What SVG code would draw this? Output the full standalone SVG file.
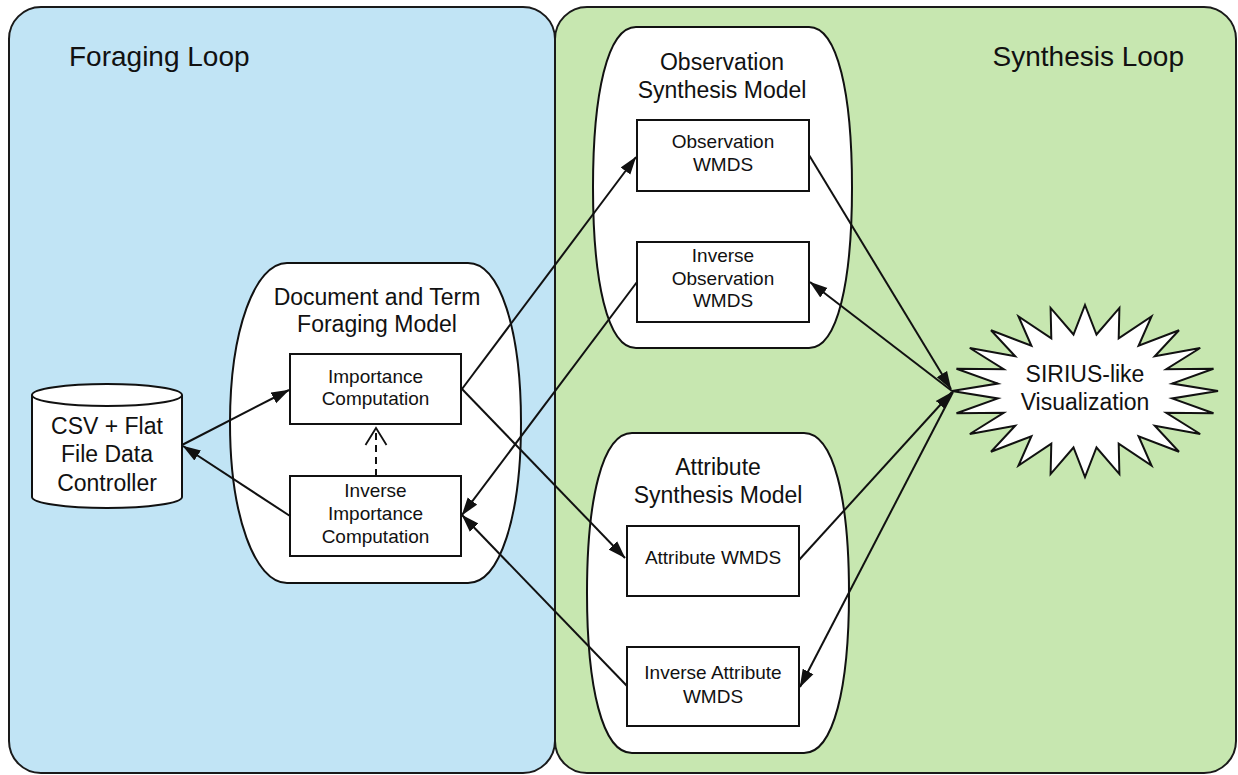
<svg xmlns="http://www.w3.org/2000/svg" width="1238" height="775" viewBox="0 0 1238 775">
<defs>
<style>
.panel{stroke:#1a1a1a;stroke-width:2}
.shape{fill:#fff;stroke:#111;stroke-width:2}
.box{fill:#fff;stroke:#111;stroke-width:2}
.t{font-family:"Liberation Sans",Arial,sans-serif;fill:#111;text-anchor:middle}
.loop{font-size:28px}
.title{font-size:23px}
.bt{font-size:19px}
.conn line{stroke:#111;stroke-width:2;fill:none}
</style>
<marker id="arr" markerUnits="userSpaceOnUse" viewBox="0 0 18 13" markerWidth="18" markerHeight="13" refX="17.5" refY="6.5" orient="auto">
<path d="M0,0.5 L18,6.5 L0,12.5 Z" fill="#111"/>
</marker>
<marker id="open" markerUnits="userSpaceOnUse" viewBox="-2 -2 21 25" markerWidth="21" markerHeight="25" refX="17" refY="10.5" orient="auto">
<path d="M0,0 L17,10.5 L0,21" fill="none" stroke="#111" stroke-width="1.8"/>
</marker>
</defs>

<g id="foraging-loop">
<rect class="panel" x="9" y="7" width="546" height="766" rx="32" ry="32" fill="#c1e4f5"/>
<text class="t loop" x="69" y="66" style="text-anchor:start">Foraging Loop</text>
</g>
<g id="synthesis-loop">
<rect class="panel" x="555" y="7" width="681" height="766" rx="32" ry="32" fill="#c7e7b0"/>
<text class="t loop" x="1184" y="66" style="text-anchor:end">Synthesis Loop</text>
</g>

<g id="foraging-model">
<path class="shape" d="M287 263 L468 263 C500 263 521 330 521 423 C521 516 500 583 468 583 L287 583 C255 583 230 516 230 423 C230 330 255 263 287 263 Z"/>
<text class="t title" x="377" y="305">Document and Term</text>
<text class="t title" x="377" y="332">Foraging Model</text>
</g>
<g id="observation-model">
<path class="shape" d="M636 27 L809 27 C838 27 852 95 852 187.5 C852 280 838 348 809 348 L636 348 C607 348 593 280 593 187.5 C593 95 607 27 636 27 Z"/>
<text class="t title" x="722" y="70">Observation</text>
<text class="t title" x="722" y="98">Synthesis Model</text>
</g>
<g id="attribute-model">
<path class="shape" d="M632 433 L804 433 C834 433 849 500 849 593 C849 686 834 753 804 753 L632 753 C602 753 587 686 587 593 C587 500 602 433 632 433 Z"/>
<text class="t title" x="718" y="475">Attribute</text>
<text class="t title" x="718" y="503">Synthesis Model</text>
</g>

<g id="csv">
<path class="shape" d="M32 395 A75 11 0 0 1 182 395 L182 497 A75 11 0 0 1 32 497 Z"/>
<path class="shape" fill="none" d="M32 395 A75 11 0 0 0 182 395"/>
<text class="t title" x="107" y="434">CSV + Flat</text>
<text class="t title" x="107" y="462">File Data</text>
<text class="t title" x="107" y="491">Controller</text>
</g>

<g id="importance">
<rect class="box" x="290" y="354" width="171" height="70"/>
<text class="t bt" x="375.5" y="383">Importance</text>
<text class="t bt" x="375.5" y="405">Computation</text>
</g>
<g id="inverse-importance">
<rect class="box" x="290" y="476" width="171" height="80"/>
<text class="t bt" x="375.5" y="497">Inverse</text>
<text class="t bt" x="375.5" y="520">Importance</text>
<text class="t bt" x="375.5" y="543">Computation</text>
</g>
<g id="observation-wmds">
<rect class="box" x="637" y="120" width="172" height="71"/>
<text class="t bt" x="723" y="148">Observation</text>
<text class="t bt" x="723" y="171">WMDS</text>
</g>
<g id="inverse-observation-wmds">
<rect class="box" x="637" y="242" width="172" height="80"/>
<text class="t bt" x="723" y="262">Inverse</text>
<text class="t bt" x="723" y="285">Observation</text>
<text class="t bt" x="723" y="307">WMDS</text>
</g>
<g id="attribute-wmds">
<rect class="box" x="627" y="526" width="172" height="70"/>
<text class="t bt" x="713" y="564">Attribute WMDS</text>
</g>
<g id="inverse-attribute-wmds">
<rect class="box" x="627" y="647" width="172" height="79"/>
<text class="t bt" x="713" y="679">Inverse Attribute</text>
<text class="t bt" x="713" y="703">WMDS</text>
</g>

<g id="sirius">
<polygon class="shape" points="1085,305 1096.5,334.5 1119.4,307.9 1118.7,338.3 1151.5,316.5 1138.6,345.8 1179,330.2 1154.8,356.3 1200.2,348 1166.3,369.2 1213.5,368.7 1172.2,383.6 1218,391 1172.2,398.4 1213.5,413.3 1166.3,412.8 1200.2,434 1154.8,425.7 1179,451.8 1138.6,436.2 1151.5,465.5 1118.7,443.7 1119.4,474.1 1096.5,447.5 1085,477 1073.5,447.5 1050.6,474.1 1051.3,443.7 1018.5,465.5 1031.4,436.2 991,451.8 1015.2,425.7 969.8,434 1003.7,412.8 956.5,413.3 997.8,398.4 952,391 997.8,383.6 956.5,368.7 1003.7,369.2 969.8,348 1015.2,356.3 991,330.2 1031.4,345.8 1018.5,316.5 1051.3,338.3 1050.6,307.9 1073.5,334.5"/>
<text class="t title" x="1085" y="382">SIRIUS-like</text>
<text class="t title" x="1085" y="410">Visualization</text>
</g>

<g id="connectors" class="conn">
<line x1="182" y1="445" x2="289" y2="390" marker-end="url(#arr)"/>
<line x1="290" y1="516" x2="183" y2="446" marker-end="url(#arr)"/>
<line x1="376" y1="476" x2="376" y2="428" stroke-dasharray="7,5" marker-end="url(#open)"/>
<line x1="462" y1="389" x2="636" y2="157" marker-end="url(#arr)"/>
<line x1="462" y1="389" x2="625" y2="558" marker-end="url(#arr)"/>
<line x1="637" y1="282" x2="462" y2="515" marker-end="url(#arr)"/>
<line x1="627" y1="686" x2="462" y2="515" marker-end="url(#arr)"/>
<line x1="809" y1="155" x2="951" y2="389" marker-end="url(#arr)"/>
<line x1="952" y1="391" x2="810" y2="282" marker-end="url(#arr)"/>
<line x1="799" y1="560" x2="952" y2="392" marker-end="url(#arr)"/>
<line x1="953" y1="392" x2="800" y2="687" marker-end="url(#arr)"/>
</g>
</svg>
